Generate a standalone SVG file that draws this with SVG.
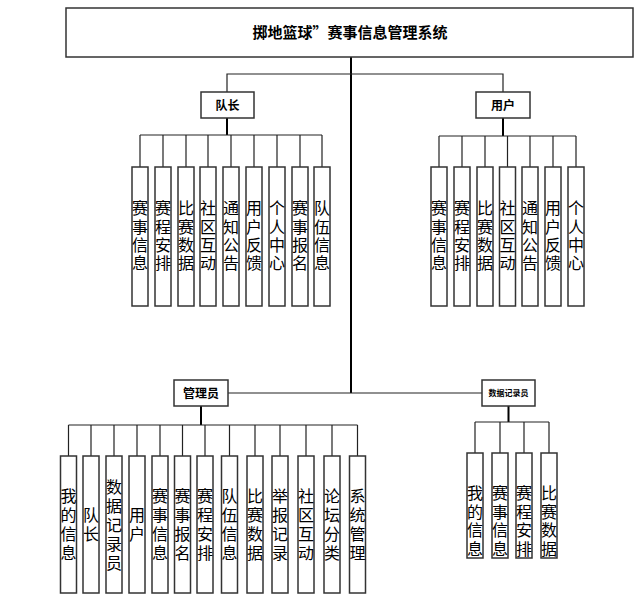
<svg xmlns="http://www.w3.org/2000/svg" width="641" height="602" viewBox="0 0 641 602">
<style>
.box{fill:#fff;stroke:#333;stroke-width:1.5}
.ln{stroke:#222;stroke-width:1.2;fill:none}
.stem{stroke:#000;stroke-width:2;fill:none}
.t{font-family:"Noto Sans CJK SC","Noto Sans CJK JP",sans-serif;font-size:16px;fill:#000;text-anchor:middle;writing-mode:vertical-rl;letter-spacing:2.3px}
.a{letter-spacing:3px}
.r{letter-spacing:2.5px}
.h{font-family:"Noto Sans CJK SC",sans-serif;font-weight:bold;fill:#000;text-anchor:middle}
</style>
<rect width="641" height="602" fill="#fff"/>
<g id="connectors">
<path class="stem" d="M351 57V393"/>
<path class="ln" d="M227 92V74H503V92"/>
<path class="ln" d="M228 393H482"/>
<path class="stem" d="M227 118V135M503 118V136M201 406V425M508.5 406V422"/>
<path class="ln" d="M140 135H322M140 135V167M163 135V167M186 135V167M208 135V167M231 135V167M254 135V167M277 135V167M300 135V167M322 135V167"/>
<path class="ln" d="M439 136H576M439 136V167M462 136V167M485 136V167M507.5 136V167M530 136V167M553 136V167M576 136V167"/>
<path class="ln" d="M68.5 425H357.5M68.5 425V456M91 425V456M114 425V456M137 425V456M160 425V456M182.5 425V456M205 425V456M229.5 425V456M255 425V456M280 425V456M306 425V456M332 425V456M357.5 425V456"/>
<path class="ln" d="M475 422H549M475 422V453M500 422V453M524 422V453M549 422V453"/>
</g>
<g id="root"><rect class="box" x="66" y="8" width="567" height="49"/><text class="h" x="350" y="38" font-size="15" font-family="Liberation Serif,Noto Sans CJK SC,serif">掷地篮球”赛事信息管理系统</text></g>
<g id="duizhang"><rect class="box" x="201" y="92" width="53" height="26"/><text class="h" x="227.5" y="110" font-size="12">队长</text></g>
<g id="yonghu"><rect class="box" x="476" y="92" width="54" height="26"/><text class="h" x="503" y="110" font-size="12">用户</text></g>
<g id="guanliyuan"><rect class="box" x="174" y="380" width="54" height="26"/><text class="h" x="201" y="398" font-size="12">管理员</text></g>
<g id="jiluyuan"><rect class="box" x="482" y="380" width="53" height="26"/><text class="h" x="508.5" y="396" font-size="8">数据记录员</text></g>

<g id="dz1"><rect class="box" x="132" y="167" width="16" height="139"/><text class="t" x="140" y="237">赛事信息</text></g>
<g id="dz2"><rect class="box" x="155" y="167" width="16" height="139"/><text class="t" x="163" y="237">赛程安排</text></g>
<g id="dz3"><rect class="box" x="178" y="167" width="16" height="139"/><text class="t" x="186" y="237">比赛数据</text></g>
<g id="dz4"><rect class="box" x="200" y="167" width="16" height="139"/><text class="t" x="208" y="237">社区互动</text></g>
<g id="dz5"><rect class="box" x="223" y="167" width="16" height="139"/><text class="t" x="231" y="237">通知公告</text></g>
<g id="dz6"><rect class="box" x="246" y="167" width="16" height="139"/><text class="t" x="254" y="237">用户反馈</text></g>
<g id="dz7"><rect class="box" x="269" y="167" width="16" height="139"/><text class="t" x="277" y="237">个人中心</text></g>
<g id="dz8"><rect class="box" x="292" y="167" width="16" height="139"/><text class="t" x="300" y="237">赛事报名</text></g>
<g id="dz9"><rect class="box" x="314" y="167" width="16" height="139"/><text class="t" x="322" y="237">队伍信息</text></g>

<g id="yh1"><rect class="box" x="431" y="167" width="16" height="139"/><text class="t" x="439" y="237">赛事信息</text></g>
<g id="yh2"><rect class="box" x="454" y="167" width="16" height="139"/><text class="t" x="462" y="237">赛程安排</text></g>
<g id="yh3"><rect class="box" x="477" y="167" width="16" height="139"/><text class="t" x="485" y="237">比赛数据</text></g>
<g id="yh4"><rect class="box" x="499.5" y="167" width="16" height="139"/><text class="t" x="507.5" y="237">社区互动</text></g>
<g id="yh5"><rect class="box" x="522" y="167" width="16" height="139"/><text class="t" x="530" y="237">通知公告</text></g>
<g id="yh6"><rect class="box" x="545" y="167" width="16" height="139"/><text class="t" x="553" y="237">用户反馈</text></g>
<g id="yh7"><rect class="box" x="568" y="167" width="16" height="139"/><text class="t" x="576" y="237">个人中心</text></g>

<g id="gl1"><rect class="box" x="60.5" y="456" width="16" height="137"/><text class="t a" x="68.5" y="526">我的信息</text></g>
<g id="gl2"><rect class="box" x="83" y="456" width="16" height="137"/><text class="t a" x="91" y="526">队长</text></g>
<g id="gl3"><rect class="box" x="106" y="456" width="16" height="137"/><text class="t a" x="114" y="526">数据记录员</text></g>
<g id="gl4"><rect class="box" x="129" y="456" width="16" height="137"/><text class="t a" x="137" y="526">用户</text></g>
<g id="gl5"><rect class="box" x="152" y="456" width="16" height="137"/><text class="t a" x="160" y="526">赛事信息</text></g>
<g id="gl6"><rect class="box" x="174.5" y="456" width="16" height="137"/><text class="t a" x="182.5" y="526">赛事报名</text></g>
<g id="gl7"><rect class="box" x="197" y="456" width="16" height="137"/><text class="t a" x="205" y="526">赛程安排</text></g>
<g id="gl8"><rect class="box" x="221.5" y="456" width="16" height="137"/><text class="t a" x="229.5" y="526">队伍信息</text></g>
<g id="gl9"><rect class="box" x="247" y="456" width="16" height="137"/><text class="t a" x="255" y="526">比赛数据</text></g>
<g id="gl10"><rect class="box" x="272" y="456" width="16" height="137"/><text class="t a" x="280" y="526">举报记录</text></g>
<g id="gl11"><rect class="box" x="298" y="456" width="16" height="137"/><text class="t a" x="306" y="526">社区互动</text></g>
<g id="gl12"><rect class="box" x="324" y="456" width="16" height="137"/><text class="t a" x="332" y="526">论坛分类</text></g>
<g id="gl13"><rect class="box" x="349.5" y="456" width="16" height="137"/><text class="t a" x="357.5" y="526">系统管理</text></g>

<g id="jl1"><rect class="box" x="467" y="453" width="16" height="105"/><text class="t r" x="475" y="522">我的信息</text></g>
<g id="jl2"><rect class="box" x="492" y="453" width="16" height="105"/><text class="t r" x="500" y="522">赛事信息</text></g>
<g id="jl3"><rect class="box" x="516" y="453" width="16" height="105"/><text class="t r" x="524" y="522">赛程安排</text></g>
<g id="jl4"><rect class="box" x="541" y="453" width="16" height="105"/><text class="t r" x="549" y="522">比赛数据</text></g>
</svg>
